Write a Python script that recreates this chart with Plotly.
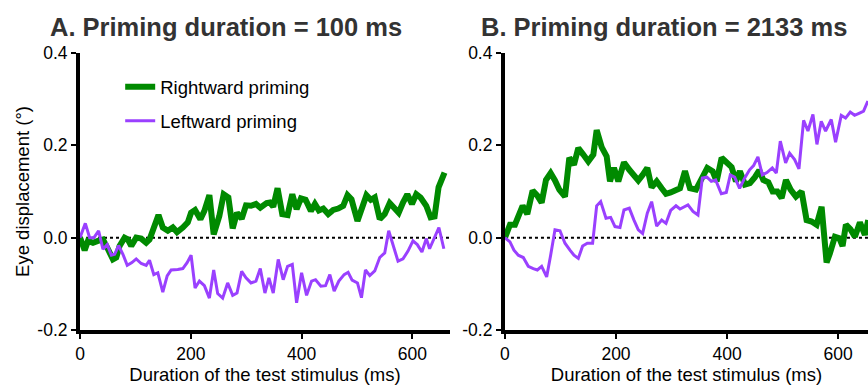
import plotly.graph_objects as go

# ---------------- data ----------------
# Panel A: priming duration = 100 ms
a_right_x = [0, 8.4, 14.4, 23.4, 32.4, 41.4, 50.5, 59.5, 65.5, 71.5, 80.5, 86.5, 92.5, 101.5,
             110.5, 119.5, 125.5, 134.5, 141.7, 149.5, 158.6, 167.6, 175.2, 185.6, 194.6, 200.6,
             207.8, 217.4, 224.6, 233.6, 241.4, 251.6, 259.4, 267.9, 275.7, 283.5, 291.9, 299.7,
             308.7, 317.7, 325.5, 336.9, 342.9, 348.9, 356.7, 365.2, 374.8, 383.3, 391.1, 398.9,
             407.3, 416.9, 424.1, 431.3, 439.2, 448.2, 457.2, 466.2, 475.2, 483.0, 490.2, 501.0,
             508.2, 517.2, 525.0, 532.2, 541.2, 550.2, 559.2, 568.2, 575.4, 583.2, 591.0, 599.4,
             607.2, 615.0, 625.2, 633.0, 640.2, 647.4, 658.2]
a_right_y = [0, -0.027, -0.007, -0.011, -0.007, -0.004, -0.025, -0.047, -0.043, -0.018, 0.0,
             -0.004, -0.018, 0.0, -0.002, -0.011, -0.004, 0.025, 0.049, 0.022, 0.015, 0.022, 0.012,
             0.022, 0.033, 0.054, 0.060, 0.040, 0.058, 0.092, 0.007, 0.047, 0.094, 0.087, 0.020,
             0.054, 0.041, 0.070, 0.069, 0.073, 0.065, 0.075, 0.076, 0.067, 0.107, 0.051, 0.049,
             0.094, 0.062, 0.085, 0.082, 0.058, 0.073, 0.059, 0.063, 0.051, 0.060, 0.063, 0.069,
             0.092, 0.083, 0.036, 0.062, 0.092, 0.082, 0.087, 0.040, 0.051, 0.075, 0.063, 0.054,
             0.076, 0.094, 0.073, 0.094, 0.087, 0.069, 0.044, 0.046, 0.109, 0.141]

a_left_x = [0, 9.6, 17.4, 25.2, 33.6, 41.4, 49.2, 56.7, 62.5, 69.7, 77.5, 85.3, 93.7, 101.5,
            110.5, 119.5, 125.5, 133.3, 140.5, 149.5, 157.4, 164.6, 176.4, 185.6, 193.4, 200.6,
            207.8, 215.6, 224.6, 233.6, 241.4, 248.6, 257.6, 266.6, 275.7, 283.5, 291.9, 299.7,
            308.7, 317.7, 325.5, 333.9, 341.1, 348.9, 357.9, 366.9, 374.8, 383.3, 391.1, 400.1,
            409.1, 418.1, 425.3, 434.9, 443.3, 451.1, 458.9, 467.3, 476.9, 484.1, 491.3, 501.0,
            508.2, 515.4, 523.2, 532.2, 541.2, 550.2, 557.4, 565.2, 574.2, 583.2, 592.2, 601.2,
            609.0, 617.4, 625.2, 631.2, 640.2, 648.0, 657.0]
a_left_y = [0, 0.031, 0.0, 0.0, 0.015, -0.025, -0.015, -0.038, -0.036, -0.017, -0.036, -0.060,
            -0.054, -0.046, -0.056, -0.060, -0.049, -0.080, -0.076, -0.118, -0.083, -0.070, -0.069,
            -0.067, -0.054, -0.038, -0.109, -0.094, -0.104, -0.131, -0.070, -0.121, -0.131, -0.098,
            -0.125, -0.120, -0.073, -0.087, -0.098, -0.094, -0.067, -0.120, -0.087, -0.120, -0.047,
            -0.091, -0.062, -0.058, -0.141, -0.076, -0.125, -0.094, -0.091, -0.105, -0.104, -0.080,
            -0.116, -0.094, -0.080, -0.075, -0.092, -0.098, -0.130, -0.070, -0.082, -0.072, -0.043,
            -0.033, 0.015, -0.018, -0.051, -0.046, -0.029, -0.007, -0.015, -0.031, -0.002, -0.024,
            0.0, 0.022, -0.024]

# Panel B: priming duration = 2133 ms
b_right_x = [0, 9, 18, 24, 31.8, 40.2, 49.8, 58.3, 66.1, 73.9, 82.3, 90.1, 97.9, 108.1, 115.9,
             124.3, 132.1, 141.1, 150.1, 159.2, 165.2, 174.2, 183.2, 189.2, 196.4, 204.2, 214.4,
             224.0, 232.4, 240.2, 248.0, 256.4, 264.2, 273.3, 282.3, 290.1, 298.5, 308.1, 315.3,
             324.3, 333.3, 344.1, 354.3, 364.5, 374.1, 381.3, 390.3, 399.3, 408.3, 416.1, 423.3,
             432.3, 441.3, 450.3, 458.1, 465.4, 474.4, 482.2, 490.6, 498.4, 506.2, 514.6, 524.2,
             534.4, 543.4, 552.4, 561.4, 570.4, 579.4, 585.4, 594.4, 602.2, 608.2, 614.2, 622.6,
             630.4, 639.4, 648.4, 654.4]
b_right_y = [0, 0.028, 0.028, 0.046, 0.069, 0.051, 0.102, 0.091, 0.076, 0.125, 0.140, 0.124,
             0.104, 0.089, 0.173, 0.158, 0.194, 0.180, 0.165, 0.180, 0.233, 0.196, 0.176, 0.122,
             0.151, 0.122, 0.163, 0.147, 0.134, 0.124, 0.136, 0.151, 0.109, 0.122, 0.107, 0.095,
             0.098, 0.102, 0.107, 0.144, 0.107, 0.104, 0.125, 0.151, 0.144, 0.122, 0.173, 0.162,
             0.153, 0.122, 0.144, 0.115, 0.118, 0.131, 0.146, 0.125, 0.120, 0.100, 0.100, 0.086,
             0.125, 0.104, 0.089, 0.100, 0.038, 0.035, 0.028, 0.067, -0.054, -0.034, 0.002,
             -0.001, -0.018, 0.028, 0.018, 0.002, 0.033, 0.006, 0.038]

b_left_x = [0, 9, 16.2, 24, 33, 42, 51, 58.3, 66.1, 75.1, 82.3, 90.1, 99.1, 108.1, 117.1, 124.3,
            132.1, 139.9, 148.3, 157.9, 165.2, 172.4, 182.0, 190.4, 198.2, 207.2, 214.4, 224.0,
            232.4, 240.2, 248.0, 256.4, 264.2, 273.3, 282.3, 290.1, 298.5, 308.1, 315.3, 322.5,
            329.7, 338.7, 347.7, 355.5, 363.9, 371.7, 379.5, 389.7, 398.7, 405.9, 413.7, 422.7,
            431.7, 440.7, 447.9, 455.7, 463.6, 472.0, 481.6, 488.8, 496.0, 505.6, 512.8, 521.8,
            529.6, 538.0, 545.8, 554.8, 562.0, 569.8, 577.6, 587.8, 595.6, 605.8, 613.6, 622.0,
            629.8, 638.8, 646.0, 653.8]
b_left_y = [0, -0.009, -0.027, -0.038, -0.043, -0.062, -0.067, -0.070, -0.062, -0.085, -0.038,
            0.017, 0.015, -0.012, -0.027, -0.038, -0.045, -0.018, -0.012, -0.012, 0.069, 0.078,
            0.042, 0.044, 0.024, 0.022, 0.060, 0.064, 0.038, 0.017, 0.009, 0.053, 0.078, 0.025,
            0.038, 0.031, 0.059, 0.069, 0.062, 0.066, 0.071, 0.057, 0.049, 0.129, 0.131, 0.122,
            0.125, 0.095, 0.098, 0.136, 0.131, 0.107, 0.129, 0.147, 0.156, 0.175, 0.136, 0.141,
            0.151, 0.140, 0.209, 0.162, 0.183, 0.169, 0.149, 0.254, 0.231, 0.267, 0.202, 0.252,
            0.231, 0.256, 0.207, 0.265, 0.259, 0.272, 0.265, 0.270, 0.274, 0.296]

titles = ["A. Priming duration = 100 ms", "B. Priming duration = 2133 ms"]
series_names = ["Rightward priming", "Leftward priming"]
x_title = "Duration of the test stimulus (ms)"
y_title = "Eye displacement (°)"
x_ticks = [0, 200, 400, 600]
y_ticks = [-0.2, 0.0, 0.2, 0.4]
y_tick_text = ["-0.2", "0.0", "0.2", "0.4"]

GREEN = "#008A00"
PURPLE = "#9A40FF"
FONT = "Liberation Sans, Arial, Helvetica, sans-serif"

fig = go.Figure()

fig.add_trace(go.Scatter(x=a_right_x, y=a_right_y, mode="lines", name=series_names[0],
                         line=dict(color=GREEN, width=6), xaxis="x", yaxis="y",
                         legendgroup="r"))
fig.add_trace(go.Scatter(x=a_left_x, y=a_left_y, mode="lines", name=series_names[1],
                         line=dict(color=PURPLE, width=3), xaxis="x", yaxis="y",
                         legendgroup="l"))
fig.add_trace(go.Scatter(x=b_right_x, y=b_right_y, mode="lines", name=series_names[0],
                         line=dict(color=GREEN, width=6), xaxis="x2", yaxis="y2",
                         showlegend=False, legendgroup="r"))
fig.add_trace(go.Scatter(x=b_left_x, y=b_left_y, mode="lines", name=series_names[1],
                         line=dict(color=PURPLE, width=3), xaxis="x2", yaxis="y2",
                         showlegend=False, legendgroup="l"))

axis_common = dict(showgrid=False, zeroline=False, showline=True, linecolor="black",
                   linewidth=4, ticks="outside", ticklen=5, tickwidth=2, tickcolor="black",
                   tickfont=dict(family=FONT, size=17.5, color="black"))

TITLE_SIZE = 18.5

fig.update_layout(
    width=868, height=387,
    margin=dict(l=80, r=0, t=53, b=57),
    paper_bgcolor="white", plot_bgcolor="white",
    font=dict(family=FONT, color="black"),
    showlegend=True,
    legend=dict(x=0.051, y=0.945, xanchor="left", yanchor="top",
                font=dict(family=FONT, size=18.5, color="black"),
                bgcolor="rgba(0,0,0,0)", tracegroupgap=7, traceorder="grouped"),
    xaxis=dict(domain=[0, 0.4695], range=[0, 668], tickvals=x_ticks, anchor="y",
               title=dict(text=x_title, font=dict(family=FONT, size=TITLE_SIZE), standoff=5),
               **axis_common),
    yaxis=dict(domain=[0, 1], range=[-0.2, 0.4], tickvals=y_ticks, ticktext=y_tick_text,
               anchor="x", title=dict(text=y_title, font=dict(family=FONT, size=TITLE_SIZE), standoff=4),
               **axis_common),
    xaxis2=dict(domain=[0.5393, 1], range=[0, 654], tickvals=x_ticks, anchor="y2",
                title=dict(text=x_title, font=dict(family=FONT, size=TITLE_SIZE), standoff=5),
                **axis_common),
    yaxis2=dict(domain=[0, 1], range=[-0.2, 0.4], tickvals=y_ticks, ticktext=y_tick_text,
                anchor="x2", **axis_common),
)

for xr, yr in (("x", "y"), ("x2", "y2")):
    fig.add_shape(type="line", xref=f"{xr} domain", yref=yr, x0=0, x1=1, y0=0, y1=0,
                  line=dict(color="black", width=2, dash="dot"), layer="below")

for i, (t, xpos) in enumerate(zip(titles, [-0.0406, 0.5063])):
    fig.add_annotation(text=f"<b>{t}</b>", xref="paper", yref="paper", x=xpos, y=1.094,
                       xanchor="left", yanchor="middle", showarrow=False,
                       font=dict(family=FONT, size=25.5, color="#333333"))

fig.write_html("out.html")
